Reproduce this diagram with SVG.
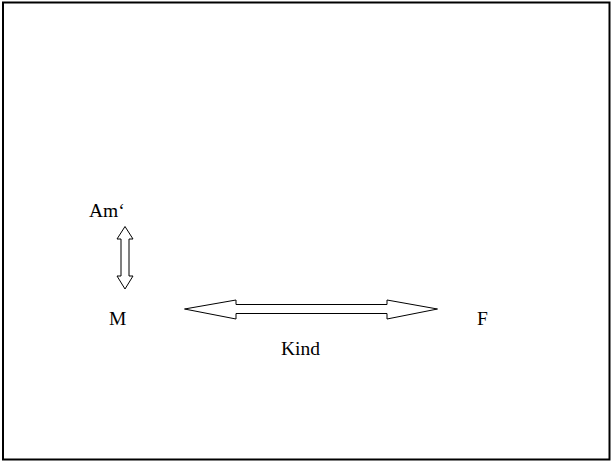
<svg xmlns="http://www.w3.org/2000/svg" width="612" height="462" viewBox="0 0 612 462">
<style>
.t{font-family:'Liberation Serif','Times New Roman',Times,serif;font-size:19.5px;fill:#000}
.arr{fill:#fff;stroke:#000;stroke-width:1}
</style>
<rect x="0" y="0" width="612" height="462" fill="#fff"/>
<rect x="3" y="2.5" width="606.5" height="457" fill="none" stroke="#000" stroke-width="2"/>
<g id="node-am"><text class="t" x="89" y="217">Am‘</text></g>
<g id="node-m"><text class="t" x="109" y="325">M</text></g>
<g id="node-f"><text class="t" x="477" y="325">F</text></g>
<g id="node-kind"><text class="t" x="281" y="355">Kind</text></g>
<g id="connectors">
<polygon class="arr" points="125,226.5 133,239 129,239 129,276 133,276 125,289 117,276 121,276 121,239 117,239"/>
<polygon class="arr" points="184.5,309 236,300 236,304.5 387,304.5 387,300 437.5,309 387,319 387,313.5 236,313.5 236,319"/>
</g>
</svg>
